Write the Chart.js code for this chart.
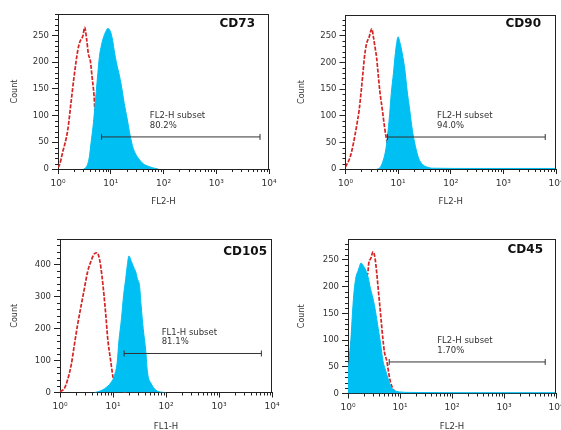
<!DOCTYPE html>
<html>
<head>
<meta charset="utf-8">
<script src="https://cdn.jsdelivr.net/npm/chart.js@4.4.1/dist/chart.umd.min.js"></script>
<style>
  html, body { margin: 0; padding: 0; background: #fff; }
  body { width: 561px; height: 430px; position: relative; overflow: hidden; }
  canvas { position: absolute; }
</style>
</head>
<body>
<canvas id="c1" width="285" height="215" style="left:0px;top:0px"></canvas>
<canvas id="c2" width="281" height="215" style="left:280px;top:0px"></canvas>
<canvas id="c3" width="285" height="215" style="left:0px;top:215px"></canvas>
<canvas id="c4" width="281" height="215" style="left:280px;top:215px"></canvas>
<script>
// ---------------- DATA ----------------
// x positions are log10 of fluorescence intensity, y are event counts
const panelNames = ['CD73', 'CD90', 'CD105', 'CD45'];
const channelNames = ['FL2-H', 'FL2-H', 'FL1-H', 'FL2-H'];
const subsetLabels = ['FL2-H subset', 'FL2-H subset', 'FL1-H subset', 'FL2-H subset'];
const subsetPercents = ['80.2%', '94.0%', '81.1%', '1.70%'];
const gateLow = [6.7, 6.3, 16.2, 6.2];
const gateHigh = [6760, 6240, 6300, 6200];
const gateLevel = [60, 60, 122, 59];

const xTickValues = [1, 10, 100, 1000, 10000];
const xTickLabels = ['10\u2070', '10\u00B9', '10\u00B2', '10\u00B3', '10\u2074'];

// CD73
const cd73CtrlLog = [0.00,0.03,0.085,0.185,0.245,0.305,0.375,0.415,0.475,0.505,0.545,0.575,0.615,0.645,0.685,0.705,0.745,0.795,0.845,0.925,1.0,1.1];
const cd73CtrlCount = [3,8,30,73,123,173,222,238,250,265,241,216,201,173,135,98,70,42,22,8,2,0];
const cd73StainLog = [0.485,0.545,0.595,0.625,0.665,0.695,0.725,0.755,0.785,0.825,0.855,0.905,0.945,0.995,1.035,1.075,1.125,1.155,1.205,1.255,1.315,1.365,1.425,1.525,1.615,1.715,1.805,1.9];
const cd73StainCount = [0,5,23,48,80,111,145,179,210,232,244,257,263,257,241,216,191,179,154,123,92,64,39,20,10,5,2,0];

// CD90
const cd90CtrlLog = [0.00,0.09,0.15,0.21,0.26,0.30,0.33,0.36,0.40,0.45,0.50,0.53,0.56,0.59,0.62,0.65,0.70,0.74,0.77,0.82,0.90,1.0,1.1];
const cd90CtrlCount = [4,23,48,80,111,148,179,210,235,248,263,248,229,210,179,148,111,80,61,35,12,2,0];
const cd90StainLog = [0.60,0.65,0.72,0.77,0.81,0.84,0.87,0.91,0.94,0.97,1.00,1.04,1.08,1.13,1.17,1.22,1.27,1.33,1.39,1.47,1.57,1.65,2.5,4.0];
const cd90StainCount = [0,2,17,39,73,104,142,179,210,235,248,235,216,185,148,111,73,42,20,8,3,1.5,1,1];

// CD105
const cd105CtrlLog = [0.00,0.08,0.14,0.21,0.27,0.33,0.40,0.46,0.52,0.59,0.65,0.70,0.75,0.79,0.83,0.87,0.90,0.95,0.99,1.02,1.08,1.15,1.25];
const cd105CtrlCount = [3,12,38,85,148,210,273,325,377,413,434,437,413,367,304,231,169,106,59,33,15,5,0];
const cd105StainLog = [0.65,0.71,0.84,0.97,1.03,1.08,1.11,1.16,1.20,1.24,1.27,1.30,1.35,1.39,1.43,1.46,1.50,1.53,1.57,1.62,1.65,1.72,1.81,1.92,2.0];
const cd105StainCount = [0,2,12,33,54,96,158,231,304,356,398,427,408,392,377,356,335,273,200,127,64,28,7,1,0];

// CD45
const cd45CtrlLog = [0.00,0.10,0.20,0.30,0.38,0.40,0.44,0.48,0.52,0.55,0.58,0.61,0.64,0.67,0.70,0.75,0.78,0.82,0.88,0.95];
const cd45CtrlCount = [30,130,195,215,225,244,253,265,253,228,197,166,134,103,78,59,40,20,6,0];
const cd45StainLog = [0.00,0.05,0.08,0.11,0.15,0.20,0.25,0.30,0.34,0.39,0.43,0.48,0.53,0.58,0.63,0.67,0.72,0.77,0.83,0.89,0.99,1.2,2.5,4.0];
const cd45StainCount = [40,91,141,184,216,231,244,238,231,216,197,178,153,122,91,62,44,28,12,6,3,2,1.5,1.5];

const ctrlLogs = [cd73CtrlLog, cd90CtrlLog, cd105CtrlLog, cd45CtrlLog];
const ctrlCounts = [cd73CtrlCount, cd90CtrlCount, cd105CtrlCount, cd45CtrlCount];
const stainLogs = [cd73StainLog, cd90StainLog, cd105StainLog, cd45StainLog];
const stainCounts = [cd73StainCount, cd90StainCount, cd105StainCount, cd45StainCount];

// ---------------- LAYOUT / STYLE ----------------
const layouts = [
  { id: 'c1', yMax: 290, major: 50,  minor: 10, padTop: 14, padRight: 16, yw: 58,   xh: 46,   yTitlePad: 10, xTitlePad: 8,  tDx: 14, tDy: 10, labelX: 55 },
  { id: 'c2', yMax: 289, major: 50,  minor: 10, padTop: 15, padRight: 3,  yw: 65.5, xh: 46,   yTitlePad: 17, xTitlePad: 8,  tDx: 15, tDy: 9,  labelX: 55 },
  { id: 'c3', yMax: 480, major: 100, minor: 20, padTop: 24, padRight: 13, yw: 60,   xh: 37.5, yTitlePad: 10, xTitlePad: -2, tDx: 5,  tDy: 13, labelX: 83 },
  { id: 'c4', yMax: 289, major: 50,  minor: 10, padTop: 24, padRight: 1,  yw: 68,   xh: 36.5, yTitlePad: 17, xTitlePad: -2, tDx: 13, tDy: 11, labelX: 52 }
];

const FONT = 'DejaVu Sans';
const BLUE = '#00BFF2';
const RED = '#D42424';
const AXIS = '#222222';
const TEXT = '#333333';

Chart.defaults.font.family = FONT;

const decorPlugin = {
  id: 'decor',
  afterDraw(chart) {
    const o = chart.options.plugins.decor;
    const { ctx, chartArea: ca } = chart;
    const xs = chart.scales.x, ys = chart.scales.y;
    ctx.save();
    ctx.strokeStyle = AXIS;
    ctx.lineWidth = 1;
    ctx.beginPath();
    ctx.moveTo(ca.left, Math.round(ca.top) + 0.5);
    ctx.lineTo(ca.right, Math.round(ca.top) + 0.5);
    ctx.moveTo(Math.round(ca.right) - 0.5, ca.top);
    ctx.lineTo(Math.round(ca.right) - 0.5, ca.bottom);
    for (let d = 0; d < 4; d++) {
      for (let k = 2; k < 10; k++) {
        const px = Math.round(xs.getPixelForValue(k * Math.pow(10, d))) + 0.5;
        ctx.moveTo(px, ca.bottom);
        ctx.lineTo(px, ca.bottom + 3);
      }
    }
    for (let v = o.minor; v <= ys.max; v += o.minor) {
      if (v % o.major === 0) continue;
      const py = Math.round(ys.getPixelForValue(v)) + 0.5;
      ctx.moveTo(ca.left, py);
      ctx.lineTo(ca.left - 3, py);
    }
    ctx.stroke();

    ctx.fillStyle = '#111';
    ctx.font = 'bold 12px "' + FONT + '"';
    ctx.textAlign = 'right';
    ctx.textBaseline = 'middle';
    ctx.fillText(o.title, ca.right - o.tDx, ca.top + o.tDy);

    const gy = ys.getPixelForValue(o.gateY);
    const lx = xs.getPixelForValue(o.labelX);
    ctx.fillStyle = TEXT;
    ctx.font = '8.5px "' + FONT + '"';
    ctx.textAlign = 'left';
    ctx.fillText(o.line1, lx, gy - 21);
    ctx.fillText(o.line2, lx, gy - 11.5);
    ctx.restore();
  }
};

function toPoints(logs, counts) {
  return logs.map((l, i) => ({ x: Math.pow(10, l), y: counts[i] }));
}

layouts.forEach((L, i) => {
  const majors = [];
  for (let v = 0; v <= L.yMax; v += L.major) majors.push(v);

  new Chart(document.getElementById(L.id), {
    type: 'line',
    data: {
      datasets: [
        {
          label: 'gate',
          data: [{ x: gateLow[i], y: gateLevel[i] }, { x: gateHigh[i], y: gateLevel[i] }],
          borderColor: '#333',
          borderWidth: 1,
          pointStyle: 'line',
          pointRadius: 3,
          pointRotation: 90,
          pointBorderColor: '#333',
          pointBorderWidth: 1,
          fill: false
        },
        {
          label: 'stained',
          data: toPoints(stainLogs[i], stainCounts[i]),
          borderColor: BLUE,
          backgroundColor: BLUE,
          borderWidth: 1,
          pointRadius: 0,
          fill: 'origin',
          cubicInterpolationMode: 'monotone'
        },
        {
          label: 'control',
          data: toPoints(ctrlLogs[i], ctrlCounts[i]),
          borderColor: RED,
          borderWidth: 1.7,
          borderDash: [4, 1.5],
          pointRadius: 0,
          fill: false,
          cubicInterpolationMode: 'monotone'
        }
      ]
    },
    options: {
      responsive: false,
      animation: false,
      events: [],
      layout: { padding: { top: L.padTop, right: L.padRight, left: 0, bottom: 0 } },
      plugins: {
        legend: { display: false },
        tooltip: { enabled: false },
        decor: {
          title: panelNames[i], line1: subsetLabels[i], line2: subsetPercents[i],
          gateY: gateLevel[i], labelX: L.labelX, tDx: L.tDx, tDy: L.tDy,
          major: L.major, minor: L.minor
        }
      },
      scales: {
        x: {
          type: 'logarithmic',
          min: 1,
          max: 10000,
          afterBuildTicks: s => { s.ticks = xTickValues.map(v => ({ value: v })); },
          afterFit: s => { s.height = L.xh; s.paddingLeft = 0; s.paddingRight = 0; },
          ticks: {
            callback: (v, idx) => xTickLabels[idx],
            font: { family: FONT, size: 9 },
            color: TEXT,
            padding: 4,
            maxRotation: 0,
            autoSkip: false
          },
          grid: { drawOnChartArea: false, tickLength: 5, color: AXIS },
          border: { display: true, color: AXIS, width: 1 },
          title: {
            display: true, text: channelNames[i], color: TEXT,
            font: { family: FONT, size: 8.5 },
            padding: { top: 0, bottom: L.xTitlePad }
          }
        },
        y: {
          type: 'linear',
          min: 0,
          max: L.yMax,
          afterBuildTicks: s => { s.ticks = majors.map(v => ({ value: v })); },
          afterFit: s => { s.width = L.yw; s.paddingTop = 0; s.paddingBottom = 0; },
          ticks: { font: { family: FONT, size: 8.5 }, color: TEXT, padding: 3 },
          grid: { drawOnChartArea: false, tickLength: 6, color: AXIS },
          border: { display: true, color: AXIS, width: 1 },
          title: {
            display: true, text: 'Count', color: TEXT,
            font: { family: FONT, size: 8 },
            padding: { top: L.yTitlePad, bottom: 0 }
          }
        }
      }
    },
    plugins: [decorPlugin]
  });
});
</script>
</body>
</html>
